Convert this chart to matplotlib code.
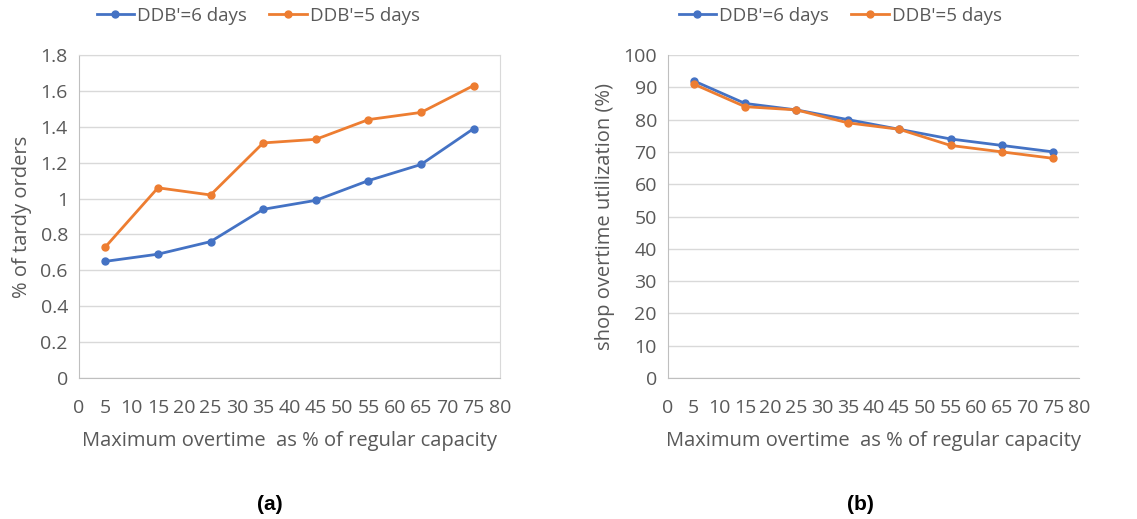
import matplotlib
matplotlib.use("Agg")
import matplotlib.pyplot as plt

x_vals = [5, 15, 25, 35, 45, 55, 65, 75]
tardy_6 = [0.65, 0.69, 0.76, 0.94, 0.99, 1.10, 1.19, 1.39]
tardy_5 = [0.73, 1.06, 1.02, 1.31, 1.33, 1.44, 1.48, 1.63]
util_6 = [92, 85, 83, 80, 77, 74, 72, 70]
util_5 = [91, 84, 83, 79, 77, 72, 70, 68]
labels = ["DDB'=6 days", "DDB'=5 days"]
xticks = list(range(0, 85, 5))

BLUE = "#4472C4"
ORANGE = "#ED7D31"
GRAY = "#595959"
GRID = "#D9D9D9"

plt.rcParams['font.family'] = ['Open Sans', 'DejaVu Sans']

fig = plt.figure(figsize=(11.37, 5.19), dpi=100)
W, H = 1137, 519

def make_ax(left, right, top, bottom):
    return fig.add_axes([left / W, 1 - bottom / H, (right - left) / W, (bottom - top) / H])

axA = make_ax(79, 500, 55, 378)
axB = make_ax(668, 1079, 55, 378)

def style(ax, ylim, yticks, yticklabels, ylabel, box):
    ax.set_xlim(0, 80)
    ax.set_ylim(*ylim)
    ax.set_xticks(xticks)
    ax.set_yticks(yticks)
    ax.set_yticklabels(yticklabels)
    ax.grid(axis='y', color=GRID, linewidth=1)
    ax.set_axisbelow(True)
    for s in ['left', 'bottom']:
        ax.spines[s].set_color('#BFBFBF')
    for s in ['top', 'right']:
        ax.spines[s].set_visible(box)
        ax.spines[s].set_color('#D9D9D9')
    ax.tick_params(length=0, colors=GRAY, labelsize=14, pad=8)
    ax.tick_params(axis='x', pad=15)
    ax.set_xlabel("Maximum overtime  as % of regular capacity", color=GRAY, fontsize=14.5, labelpad=10)
    ax.set_ylabel(ylabel, color=GRAY, fontsize=14.5, labelpad=6)

axA.plot(x_vals, tardy_6, color=BLUE, marker='o', markersize=5, linewidth=2, label=labels[0])
axA.plot(x_vals, tardy_5, color=ORANGE, marker='o', markersize=5, linewidth=2, label=labels[1])
style(axA, (0, 1.8), [0, 0.2, 0.4, 0.6, 0.8, 1.0, 1.2, 1.4, 1.6, 1.8],
      ["0", "0.2", "0.4", "0.6", "0.8", "1", "1.2", "1.4", "1.6", "1.8"], "% of tardy orders", True)

axB.plot(x_vals, util_6, color=BLUE, marker='o', markersize=5, linewidth=2, label=labels[0])
axB.plot(x_vals, util_5, color=ORANGE, marker='o', markersize=5, linewidth=2, label=labels[1])
style(axB, (0, 100), list(range(0, 101, 10)), [str(v) for v in range(0, 101, 10)],
      "shop overtime utilization (%)", False)

for ax, cx in [(axA, 258), (axB, 840)]:
    ax.legend(loc='center', bbox_to_anchor=(cx / W, 1 - 16 / H), bbox_transform=fig.transFigure,
              ncol=2, frameon=False, fontsize=13.5, labelcolor=GRAY, handlelength=2.0,
              handletextpad=0.15, columnspacing=1.2, borderaxespad=0)

fig.text(270 / W, 1 - 505 / H, "(a)", ha='center', va='center', fontsize=15,
         fontweight='bold', family='Liberation Sans')
fig.text(860 / W, 1 - 505 / H, "(b)", ha='center', va='center', fontsize=15,
         fontweight='bold', family='Liberation Sans')

fig.savefig("out.png", dpi=100)
